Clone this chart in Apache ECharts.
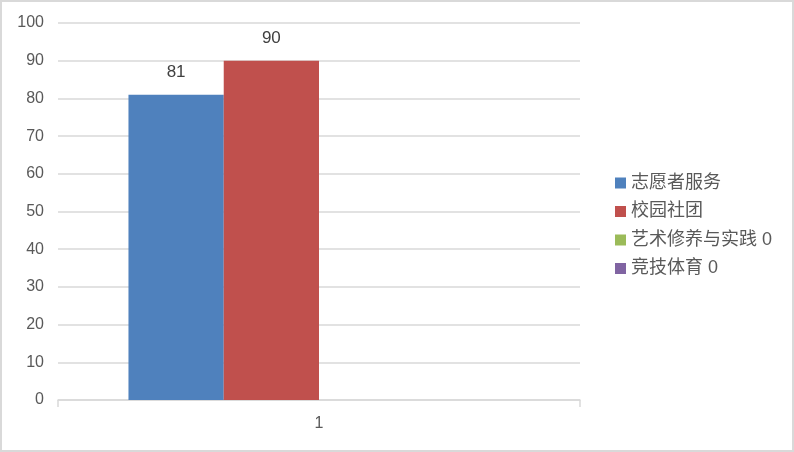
<!DOCTYPE html>
<html><head><meta charset="utf-8">
<script src="https://cdn.jsdelivr.net/npm/echarts@6/dist/echarts.min.js"></script>
<style>html,body{margin:0;padding:0;background:#fff}#c{width:794px;height:452px;position:absolute;left:0;top:0}#b{position:absolute;left:0;top:0;width:794px;height:452px;box-sizing:border-box;border:2px solid #d9d9d9;pointer-events:none}</style>
</head><body><div id="c"></div><div id="b"></div>
<script>
const categories = ['1'];
const seriesNames = ['志愿者服务', '校园社团', '艺术修养与实践 0', '竞技体育 0'];
const volunteer = [81];
const clubs = [90];
const arts = [0];
const sports = [0];
const colors = ['#4f81bd', '#c0504d', '#9bbb59', '#8064a2'];
const allData = [volunteer, clubs, arts, sports];
const font = 'Liberation Sans, Noto Sans CJK SC, sans-serif';
const chart = echarts.init(document.getElementById('c'));
chart.setOption({
  animation: false,
  color: colors,
  grid: {left: 58, right: 214, top: 23, bottom: 52},
  legend: {
    orient: 'vertical', left: 610, top: 169, itemWidth: 11, itemHeight: 11, itemGap: 10.5,
    icon: 'rect',
    textStyle: {color: '#595959', fontSize: 18, fontFamily: font},
    data: seriesNames
  },
  xAxis: {
    type: 'category', data: categories,
    axisLine: {lineStyle: {color: '#d9d9d9', width: 1.5}},
    axisTick: {show: true, length: 7, lineStyle: {color: '#d9d9d9', width: 1.5}},
    axisLabel: {color: '#595959', fontSize: 16, fontFamily: font, margin: 16}
  },
  yAxis: {
    type: 'value', min: 0, max: 100, interval: 10,
    axisLine: {show: false}, axisTick: {show: false},
    splitLine: {lineStyle: {color: '#d9d9d9', width: 1.5}},
    axisLabel: {color: '#595959', fontSize: 16, fontFamily: font, margin: 14}
  },
  series: allData.map((d, i) => ({
    name: seriesNames[i], type: 'bar', data: d,
    barGap: '0%', barCategoryGap: '27%',
    label: {show: true, position: 'top', distance: 14, color: '#404040', fontSize: 17, fontFamily: font,
      formatter: p => p.value === 0 ? '' : String(p.value)}
  }))
});
</script></body></html>
